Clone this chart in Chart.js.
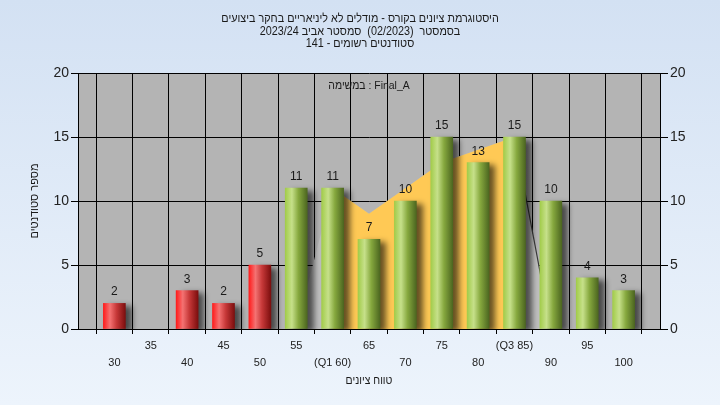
<!DOCTYPE html>
<html>
<head>
<meta charset="utf-8">
<script src="https://cdn.jsdelivr.net/npm/chart.js@4.4.1/dist/chart.umd.min.js"></script>
<style>
  html, body { margin: 0; padding: 0; }
  #wrap { width: 720px; height: 405px; }
</style>
</head>
<body>
<div id="wrap"><canvas id="histChart" width="720" height="405"></canvas></div>
<script>
// ---------- data ----------
const categories = [30, 35, 40, 45, 50, 55, 60, 65, 70, 75, 80, 85, 90, 95, 100];
const counts = [2, 0, 3, 2, 5, 11, 11, 7, 10, 15, 13, 15, 10, 4, 3];
const xTickLabels = ["30", "35", "40", "45", "50", "55", "(Q1 60)", "65", "70", "75", "80", "(Q3 85)", "90", "95", "100"];
const curveX = [55, 60, 65, 70, 75, 80, 85, 90];
const curveY = [0, 11, 9, 11, 13, 14, 15, 0];
const q1 = 60;
const q3 = 85;
const passMark = 55;
const yTicks = [0, 5, 10, 15, 20];

// words in reading order (right to left on screen)
const titleLines = [
  ["היסטוגרמת", "ציונים", "בקורס", "-", "מודלים", "לא", "ליניאריים", "בחקר", "ביצועים"],
  ["בסמסטר", " (02/2023) ", "סמסטר", "אביב", "2023/24"],
  ["סטודנטים", "רשומים", "-", "141"]
];
const taskLabel = ["Final_A", ":", "במשימה"];
const xTitle = ["טווח", "ציונים"];
const yTitle = "מספר סטודנטים";

const FONT = "'Liberation Sans', 'DejaVu Sans', Arial, sans-serif";

const barPoints = categories.map(function (c, i) { return { x: c, y: counts[i] }; });
const curvePoints = curveX.map(function (x, i) { return { x: x, y: curveY[i] }; });
const iqrPoints = curvePoints.filter(function (p) { return p.x >= q1 && p.x <= q3; });
const dropPoints = curvePoints.filter(function (p) { return p.x >= q3; });

function barFill(c) {
  const chart = c.chart;
  if (c.raw && c.raw.y === 0) return "rgba(0,0,0,0)";
  const isRed = c.raw && c.raw.x < passMark;
  if (!chart.chartArea || c.dataIndex === undefined) {
    return isRed ? "#e02020" : "#8cb040";
  }
  const x = chart.scales.x.getPixelForValue(categories[c.dataIndex]);
  const g = chart.ctx.createLinearGradient(x - 11, 0, x + 11, 0);
  if (isRed) {
    g.addColorStop(0, "#ff1c1c");
    g.addColorStop(0.3, "#f47272");
    g.addColorStop(0.6, "#c63838");
    g.addColorStop(1, "#7c0e0e");
  } else {
    g.addColorStop(0, "#a2cc4a");
    g.addColorStop(0.3, "#c6e08a");
    g.addColorStop(0.6, "#86a83e");
    g.addColorStop(1, "#4c6620");
  }
  return g;
}

// draws words right to left, one by one, so the order does not depend on bidi rules
function drawWords(ctx, words, cx, y, sx) {
  const space = ctx.measureText(" ").width;
  const widths = words.map(function (w) { return ctx.measureText(w).width; });
  const total = widths.reduce(function (s, w) { return s + w; }, 0) + space * (words.length - 1);
  ctx.save();
  ctx.translate(cx, y);
  ctx.scale(sx, 1);
  let x = total / 2;
  ctx.textAlign = "right";
  words.forEach(function (w, i) {
    ctx.fillText(w, x, 0);
    x -= widths[i] + space;
  });
  ctx.restore();
}

// ---------- plugins ----------
const backdrop = {
  id: "backdrop",
  beforeDraw: function (chart) {
    const ctx = chart.ctx;
    const a = chart.chartArea;
    const g = ctx.createLinearGradient(0, 0, 0, chart.height);
    g.addColorStop(0, "#d3e1f3");
    g.addColorStop(1, "#edf4fc");
    ctx.save();
    ctx.fillStyle = g;
    ctx.fillRect(0, 0, chart.width, chart.height);
    ctx.fillStyle = "#b4b4b4";
    ctx.fillRect(a.left, a.top, a.right - a.left, a.bottom - a.top);
    ctx.restore();
  }
};

const barShadow = {
  id: "barShadow",
  beforeDatasetDraw: function (chart, args) {
    if (args.meta.type !== "bar") return;
    const ctx = chart.ctx;
    ctx.save();
    ctx.shadowColor = "rgba(0,0,0,0.6)";
    ctx.shadowBlur = 6;
    ctx.shadowOffsetX = 6;
    ctx.shadowOffsetY = 3;
  },
  afterDatasetDraw: function (chart, args) {
    if (args.meta.type !== "bar") return;
    chart.ctx.restore();
  }
};

const texts = {
  id: "texts",
  afterDraw: function (chart) {
    const ctx = chart.ctx;
    const a = chart.chartArea;
    const mid = (a.left + a.right) / 2;
    ctx.save();
    ctx.fillStyle = "#1a1a1a";
    ctx.textBaseline = "middle";

    ctx.font = "12px " + FONT;
    drawWords(ctx, titleLines[0], 360, 19, 0.9);
    drawWords(ctx, titleLines[1], 360, 31.5, 0.9);
    drawWords(ctx, titleLines[2], 360, 44, 0.9);

    ctx.font = "11px " + FONT;
    drawWords(ctx, taskLabel, mid, 86, 0.95);
    drawWords(ctx, xTitle, mid, 381, 0.95);

    ctx.save();
    ctx.textAlign = "center";
    ctx.translate(35, (a.top + a.bottom) / 2);
    ctx.rotate(-Math.PI / 2);
    ctx.fillText(yTitle, 0, 0);
    ctx.restore();

    // value labels above bars
    ctx.font = "12px " + FONT;
    ctx.textAlign = "center";
    ctx.textBaseline = "alphabetic";
    chart.data.datasets.forEach(function (ds, di) {
      if (ds.type !== "bar") return;
      chart.getDatasetMeta(di).data.forEach(function (el, i) {
        if (counts[i] > 0) ctx.fillText(String(counts[i]), el.x, el.y - 8);
      });
    });
    ctx.restore();
  }
};

// ---------- chart ----------
const ctx = document.getElementById("histChart");

new Chart(ctx, {
  type: "bar",
  data: {
    datasets: [
      {
        type: "bar",
        data: barPoints,
        backgroundColor: barFill,
        barThickness: 22,
        borderWidth: 0,
        order: 0
      },
      {
        type: "line",
        data: dropPoints,
        borderColor: "#3a3a3a",
        borderWidth: 1.2,
        pointRadius: 0,
        fill: false,
        order: 1
      },
      {
        type: "line",
        data: iqrPoints,
        borderWidth: 0,
        borderColor: "rgba(0,0,0,0)",
        backgroundColor: "#ffc955",
        pointRadius: 0,
        fill: "origin",
        order: 2
      },
      {
        type: "line",
        data: curvePoints,
        borderWidth: 0,
        borderColor: "rgba(0,0,0,0)",
        backgroundColor: "#bfbfbf",
        pointRadius: 0,
        fill: "origin",
        order: 3
      }
    ]
  },
  options: {
    responsive: false,
    animation: false,
    layout: {
      padding: { top: 73, left: 0, right: 0, bottom: 0 }
    },
    plugins: {
      legend: { display: false },
      title: { display: false },
      tooltip: { enabled: false }
    },
    scales: {
      x: {
        type: "linear",
        min: 25,
        max: 105,
        offset: false,
        afterFit: function (s) { s.height = 76; },
        afterBuildTicks: function (s) {
          s.ticks = [25].concat(categories, [105]).map(function (v) { return { value: v }; });
        },
        grid: {
          color: "#000",
          lineWidth: 1,
          tickLength: 5,
          tickColor: "#000"
        },
        border: { color: "#000", width: 1 },
        ticks: {
          autoSkip: false,
          maxRotation: 0,
          padding: 3,
          color: "#222",
          font: { family: FONT, size: 11, lineHeight: 1.55 },
          callback: function (v) {
            const i = categories.indexOf(v);
            if (i < 0) return "";
            return i % 2 === 1 ? [xTickLabels[i]] : ["", xTickLabels[i]];
          }
        }
      },
      y: {
        position: "left",
        min: 0,
        max: 20,
        afterFit: function (s) { s.width = 78; },
        afterBuildTicks: function (s) {
          s.ticks = yTicks.map(function (v) { return { value: v }; });
        },
        grid: {
          color: "#000",
          lineWidth: 1,
          tickLength: 7,
          tickColor: "#000"
        },
        border: { color: "#000", width: 1 },
        ticks: {
          padding: 2,
          color: "#222",
          font: { family: FONT, size: 14 }
        }
      },
      y2: {
        position: "right",
        min: 0,
        max: 20,
        afterFit: function (s) { s.width = 60; },
        afterBuildTicks: function (s) {
          s.ticks = yTicks.map(function (v) { return { value: v }; });
        },
        grid: {
          drawOnChartArea: false,
          tickLength: 8,
          tickColor: "#000"
        },
        border: { color: "#000", width: 1 },
        ticks: {
          padding: 2,
          color: "#222",
          font: { family: FONT, size: 14 }
        }
      }
    }
  },
  plugins: [backdrop, barShadow, texts]
});
</script>
</body>
</html>
